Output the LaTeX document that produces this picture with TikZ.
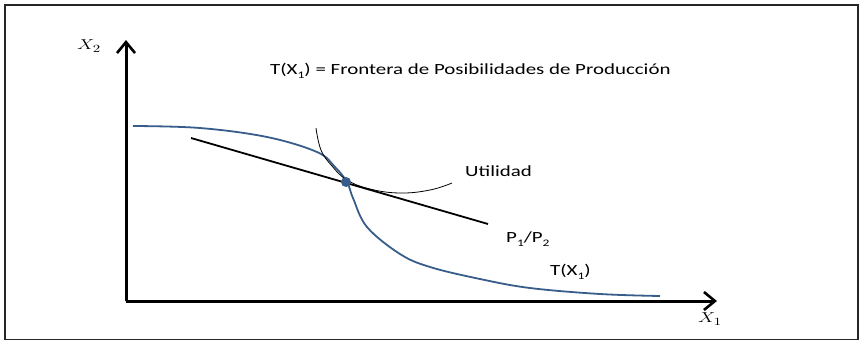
\documentclass[tikz,border=0pt]{standalone}
\usepackage{fontspec}
\setmainfont{Carlito}
\usetikzlibrary{arrows.meta}
\definecolor{frontblue}{RGB}{56,93,138}
\tikzset{
  axis/.style={line width=3pt, -{Straight Barb[length=11pt,width=18pt,line width=2.6pt]}},
  frontier/.style={frontblue, line width=1.8pt},
  budget/.style={black, line width=1.8pt},
  utility/.style={black, line width=0.8pt},
  lbl/.style={inner sep=0pt, font=\fontsize{15.5}{17}\selectfont},
}
\newcommand{\lowsub}[1]{\raisebox{-0.5ex}{\fontsize{10}{11}\selectfont #1}}
\newcommand{\wide}[1]{\scalebox{1.35}[1]{#1}}
\begin{document}
\begin{tikzpicture}[x=1pt,y=-1pt]
\useasboundingbox (0,0) rectangle (860,341);
\draw[line width=1.4pt, black!85] (5,5) rectangle (858,339.5);
% axes
\coordinate (O) at (126,301);
\coordinate (Ytop) at (126,40);
\coordinate (Xend) at (717,301);
\draw[axis] (O) -- (Ytop);
\draw[axis] (O) -- (Xend);
\node (x2) at (89,46) {\fontsize{15}{16}\selectfont\wide{$X_2$}};
\node (x1) at (710,319) {\fontsize{15}{16}\selectfont\wide{$X_1$}};
% title
\node[lbl, anchor=west] (title) at (270,71) {\wide{T(X\lowsub{1}) = Frontera de Posibilidades de Producción}};
% frontier
\draw[frontier] plot[smooth, tension=0.6] coordinates {(133,126) (200,128) (267,137) (317,152) (335,167) (347,182) (353,198) (367,227) (400,254) (430,267) (480,279) (530,288) (600,294) (660,296)};
% utility curve
\draw[utility] plot[smooth, tension=0.7] coordinates {(316,128) (321,150) (332,166) (347,180) (370,189) (400,193) (430,190) (452,183)};
% budget line
\coordinate (b1) at (191,138);
\coordinate (b2) at (488,224);
\draw[budget] (b1) -- (b2);
% tangency dot
\node[circle, fill=frontblue, minimum size=10pt, inner sep=0pt] (tp) at (346,182) {};
% labels
\node[lbl, anchor=west] (util) at (465,171) {\wide{Utilidad}};
\node[lbl, anchor=west] (price) at (506,239) {\wide{P\lowsub{1}/P\lowsub{2}}};
\node[lbl, anchor=west] (tx) at (550,272) {\wide{T(X\lowsub{1})}};
\end{tikzpicture}
\end{document}
